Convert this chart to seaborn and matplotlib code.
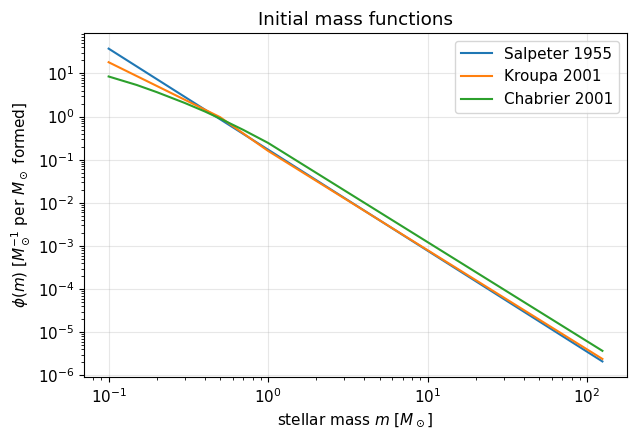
import numpy as np
import pandas as pd
import matplotlib
matplotlib.use("Agg")
import matplotlib.pyplot as plt
import seaborn as sns

# values (stellar mass in M_sun, phi(m) per M_sun formed)
salpeter_m = [0.1, 125.0]
salpeter_phi = [37.6, 2.1e-6]

kroupa_m = [0.1, 0.5, 1.0, 125.0]
kroupa_phi = [18.2, 0.97, 0.16, 2.4e-6]

chabrier_m = [0.1, 0.15, 0.2, 0.3, 0.4, 0.5, 0.7, 1.0, 125.0]
chabrier_phi = [8.5, 5.4, 3.7, 2.07, 1.32, 0.90, 0.49, 0.245, 3.7e-6]

series_names = ["Salpeter 1955", "Kroupa 2001", "Chabrier 2001"]
series_data = [(salpeter_m, salpeter_phi), (kroupa_m, kroupa_phi), (chabrier_m, chabrier_phi)]
colors = sns.color_palette("tab10", 3)

plt.rcParams['font.size'] = 11

fig, ax = plt.subplots(figsize=(6.36, 4.4), dpi=100)
fig.subplots_adjust(left=0.132, right=0.986, top=0.925, bottom=0.143)

for name, (m, phi), c in zip(series_names, series_data, colors):
    df = pd.DataFrame({"m": m, "phi": phi})
    sns.lineplot(data=df, x="m", y="phi", color=c, label=name, ax=ax, linewidth=1.5)

ax.set_xscale("log")
ax.set_yscale("log")
ax.set_xlabel(r"stellar mass $m$ [$M_\odot$]")
ax.set_ylabel(r"$\phi(m)$ [$M_\odot^{-1}$ per $M_\odot$ formed]")
ax.set_title("Initial mass functions")
ax.grid(True, alpha=0.3)
ax.legend(loc="upper right")

fig.savefig("out.png", dpi=100)
